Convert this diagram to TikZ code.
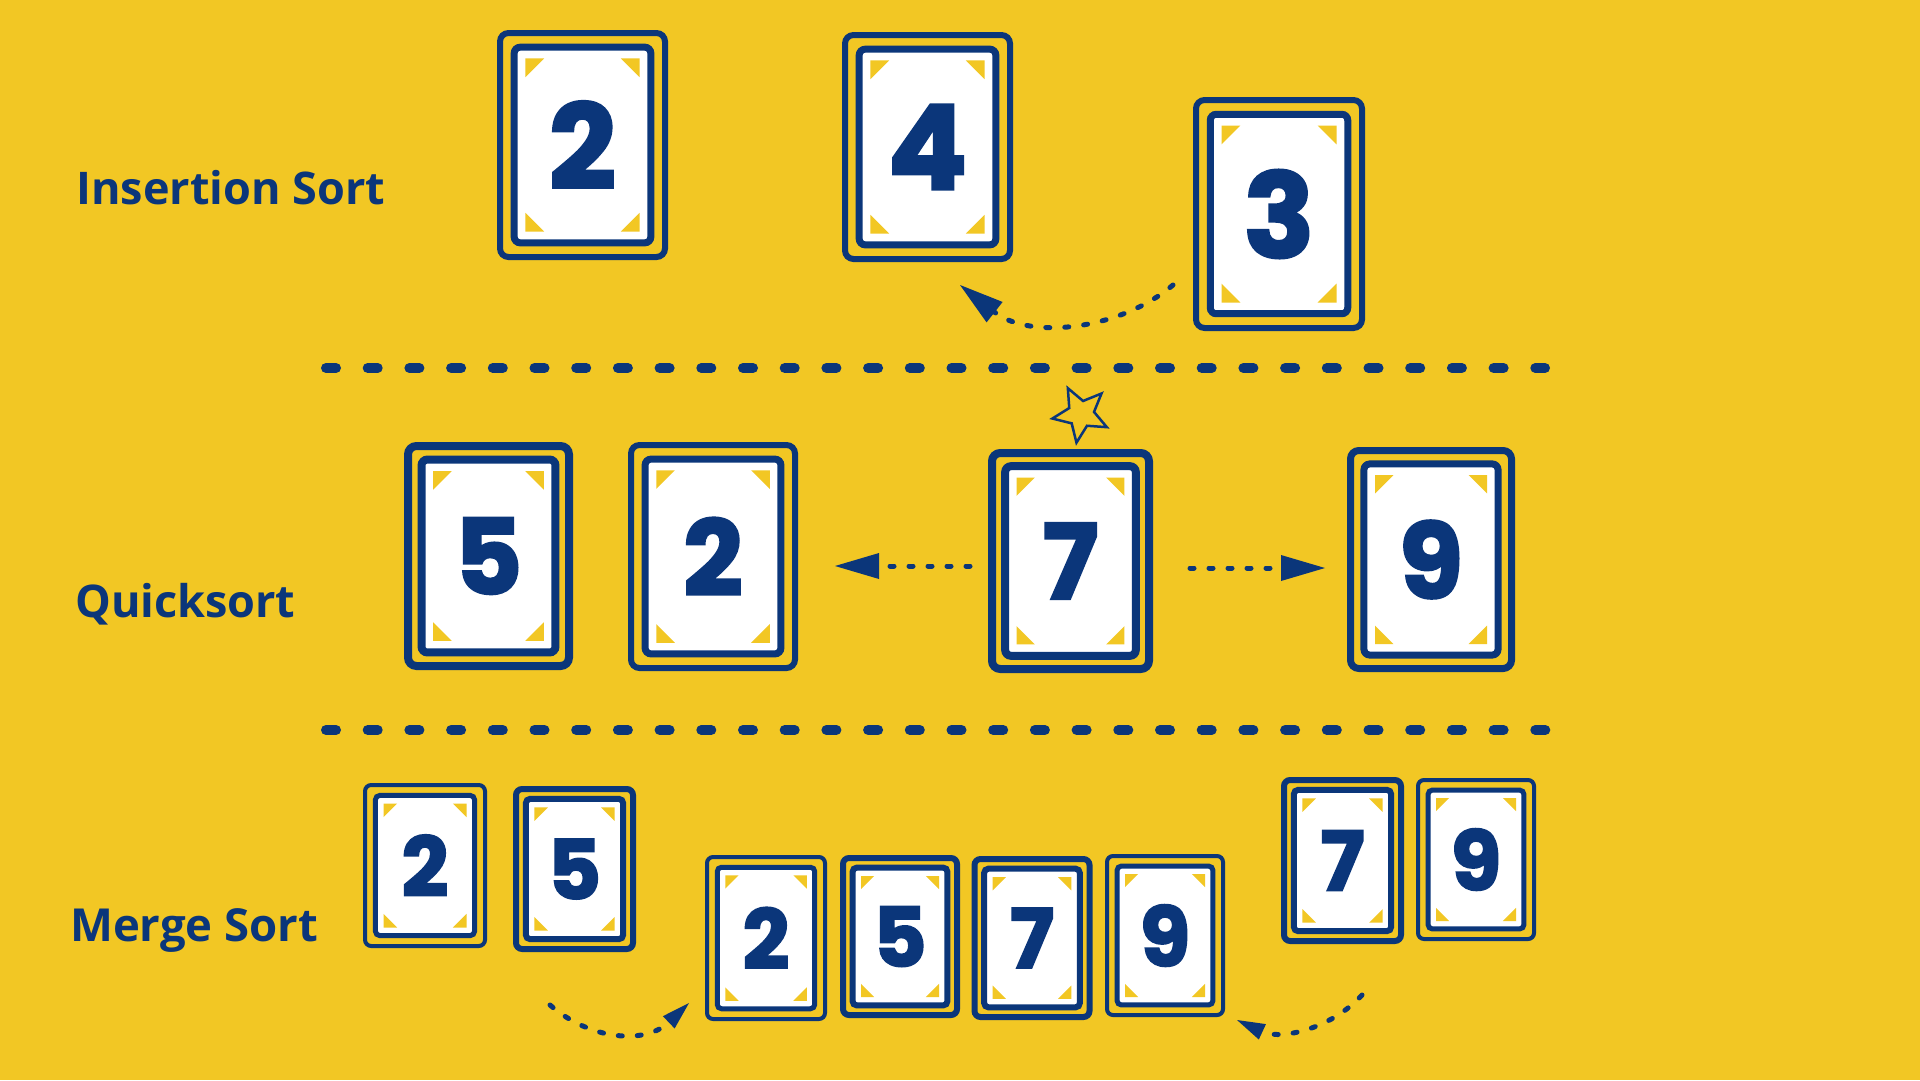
\documentclass[tikz,border=0pt]{standalone}
\usepackage{fontspec}
\usetikzlibrary{arrows.meta,shapes.geometric}
\newfontfamily\digitfont{Poppins}[BoldFeatures={FakeBold=2.5}]
\newfontfamily\labelfont{Open Sans}
\definecolor{navy}{HTML}{0B367A}
\definecolor{bgyellow}{HTML}{F2C724}
\tikzset{
  sortlabel/.style={anchor=base west, text=navy, inner sep=0pt, font=\labelfont\bfseries\fontsize{45}{45}\selectfont},
  sepline/.style={navy, line width=10pt, line cap=round, dash pattern=on 10pt off 31.7pt},
  dotarrow/.style={navy, line width=5pt, line cap=round, dash pattern=on 4pt off 15pt},
  bigtip/.style={-{Triangle[length=44pt,width=26pt,line width=0pt]}},
  smalltip/.style={-{Triangle[length=28pt,width=17pt,line width=0pt]}},
}
% #1 name, #2 cx, #3 cy, #4 W, #5 H, #6 digit, #7 font size, #8 outer lw, #9 inner lw
\newcommand\card[9]{%
  \pgfmathsetmacro\cOW{#4-#8}%
  \pgfmathsetmacro\cOH{#5-#8}%
  \pgfmathsetmacro\cIns{0.08*#4}%
  \pgfmathsetmacro\cIW{#4-2*\cIns-#9}%
  \pgfmathsetmacro\cIH{#5-2*\cIns-#9}%
  \pgfmathsetmacro\cR{0.05*#4}%
  \pgfmathsetmacro\cRi{0.035*#4}%
  \pgfmathsetmacro\cA{#4/2-\cIns-#9-0.045*#4}%
  \pgfmathsetmacro\cB{#5/2-\cIns-#9-0.045*#4}%
  \pgfmathsetmacro\cT{0.11*#4}%
  \node[draw=navy, line width=#8pt, rounded corners=\cR pt, minimum width=\cOW pt, minimum height=\cOH pt, inner sep=0pt] (#1) at (#2,#3) {};
  \node[draw=navy, fill=white, line width=#9pt, rounded corners=\cRi pt, minimum width=\cIW pt, minimum height=\cIH pt, inner sep=0pt] (#1-in) at (#2,#3) {};
  \begin{scope}[shift={(#2,#3)}]
    \fill[bgyellow] (-\cA,-\cB) -- ++(\cT,0) -- ++(-\cT,\cT) -- cycle;
    \fill[bgyellow] (\cA,-\cB) -- ++(-\cT,0) -- ++(\cT,\cT) -- cycle;
    \fill[bgyellow] (-\cA,\cB) -- ++(\cT,0) -- ++(-\cT,-\cT) -- cycle;
    \fill[bgyellow] (\cA,\cB) -- ++(-\cT,0) -- ++(\cT,-\cT) -- cycle;
  \end{scope}
  \node[inner sep=0pt, text=navy, font=\digitfont\bfseries\fontsize{#7}{#7}\selectfont] (#1-d) at (#2,#3) {#6};
}
\begin{document}
\begin{tikzpicture}[x=1pt,y=-1pt]
\useasboundingbox (0,0) rectangle (1920,1080);
\fill[bgyellow] (0,0) rectangle (1920,1080);

% labels
\node[sortlabel] (lins) at (76,204) {Insertion Sort};
\node[sortlabel] (lqs) at (75,617) {Quicksort};
\node[sortlabel, font=\labelfont\bfseries\fontsize{45.5}{45.5}\selectfont] (lms) at (70,941) {Merge Sort};

% separators
\coordinate (s1a) at (326,368); \coordinate (s1b) at (1545,368);
\coordinate (s2a) at (326,730); \coordinate (s2b) at (1550,730);
\draw[sepline] (s1a) -- (s1b);
\draw[sepline] (s2a) -- (s2b);

% insertion sort
\card{i2}{582.5}{145}{171}{230}{2}{117}{6}{7}
\card{i4}{927.5}{147}{171}{230}{4}{117}{6}{7}
\card{i3}{1279}{214}{172}{234}{3}{117}{6}{7}
\coordinate (ia) at (1173,285);
\coordinate (ib) at (960,285);
\draw[dotarrow, bigtip] (ia) .. controls (1120,330) and (1030,340) .. (ib);

% quicksort
\card{q5}{488.5}{556}{169}{228}{5}{104}{8}{8}
\card{q2}{713}{556.5}{170}{229}{2}{104}{6}{7}
\card{q7}{1070.5}{561}{165}{224}{7}{104}{8}{8}
\card{q9}{1431}{559.5}{168}{225}{9}{104}{7}{7}
\node[star, star points=5, star point ratio=2.2, draw=navy, line width=2.5pt, minimum size=58pt, inner sep=0pt, shape border rotate=27] (star) at (1081,414) {};
\coordinate (qla) at (970,566); \coordinate (qlb) at (835,566);
\coordinate (qra) at (1190,568); \coordinate (qrb) at (1325,568);
\draw[dotarrow, bigtip] (qla) -- (qlb);
\draw[dotarrow, bigtip] (qra) -- (qrb);

% merge sort
\card{m2}{425}{865.5}{124}{165}{2}{82}{4}{5}
\card{m5}{574.5}{869}{123}{166}{5}{82}{6}{6}
\card{n2}{766}{938}{122}{166}{2}{82}{4}{5}
\card{n5}{900}{936.5}{120}{163}{5}{82}{6}{6}
\card{n7}{1032}{938}{121}{164}{7}{82}{6}{6}
\card{n9}{1165}{935.5}{120}{163}{9}{82}{4}{5}
\card{m7}{1342.5}{860.5}{123}{167}{7}{82}{6}{6}
\card{m9}{1476}{859.5}{120}{163}{9}{82}{4}{5}
\coordinate (mla) at (550,1005); \coordinate (mlb) at (689,1003);
\coordinate (mra) at (1362,995); \coordinate (mrb) at (1237,1020);
\draw[dotarrow, smalltip] (mla) .. controls (590,1040) and (645,1045) .. (mlb);
\draw[dotarrow, smalltip] (mra) .. controls (1330,1030) and (1280,1040) .. (mrb);
\end{tikzpicture}
\end{document}
